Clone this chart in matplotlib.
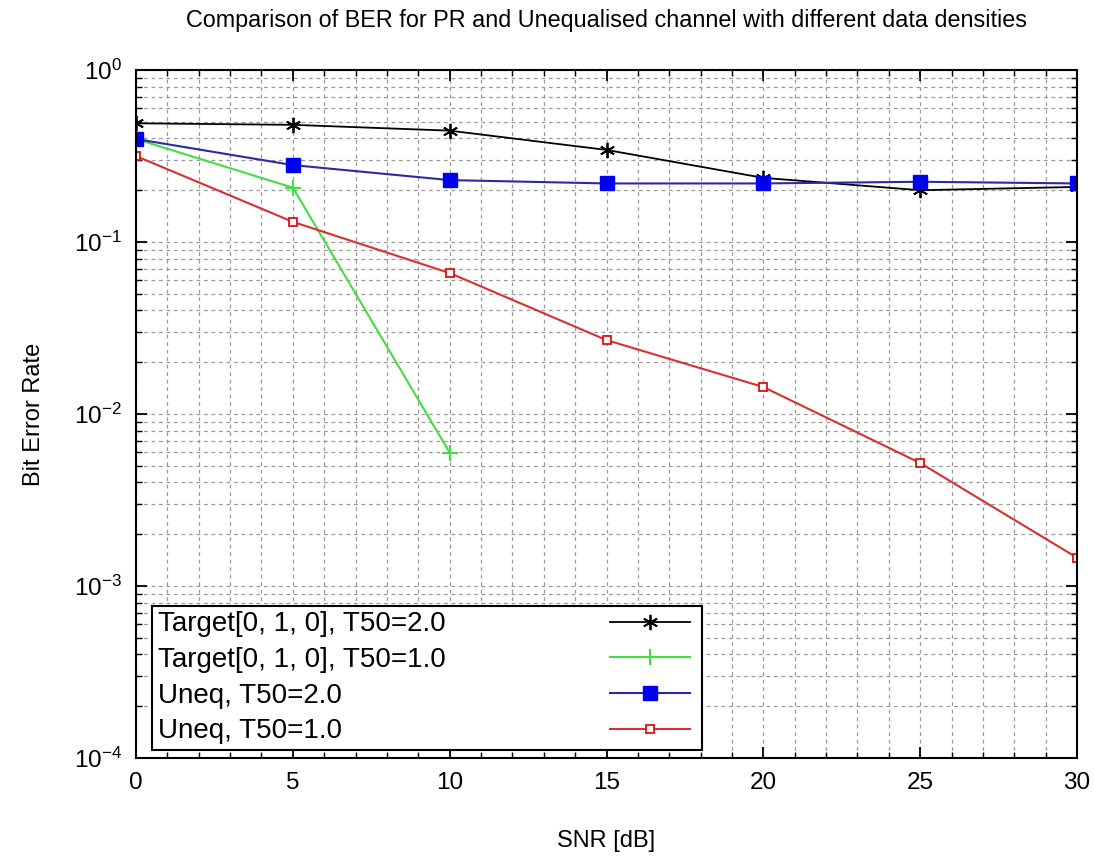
import numpy as np
import matplotlib
matplotlib.use('Agg')
import matplotlib.pyplot as plt
from matplotlib.ticker import LogLocator, MultipleLocator, NullFormatter

plt.rcParams['font.family'] = ['Liberation Sans', 'DejaVu Sans']
plt.rcParams['mathtext.fontset'] = 'custom'
plt.rcParams['mathtext.rm'] = 'Liberation Sans'

# SNR points and BER values
snr = [0, 5, 10, 15, 20, 25, 30]
snr_short = [0, 5, 10]
ber_target_t2 = [0.49, 0.48, 0.444, 0.343, 0.236, 0.200, 0.209]
ber_target_t1 = [0.397, 0.207, 0.00596]
ber_uneq_t2 = [0.397, 0.280, 0.229, 0.219, 0.219, 0.224, 0.219]
ber_uneq_t1 = [0.316, 0.131, 0.066, 0.0269, 0.01435, 0.00519, 0.00146]

labels = ['Target[0, 1, 0], T50=2.0', 'Target[0, 1, 0], T50=1.0',
          'Uneq, T50=2.0', 'Uneq, T50=1.0']

fig = plt.figure(figsize=(10.94, 8.61), dpi=100)
ax = fig.add_axes([0.1243, 0.1196, 0.8602, 0.7991])

l1, = ax.semilogy(snr, ber_target_t2, color='black', lw=1.3,
                  marker=(6, 2, 0), ms=11, mew=1.3)
l2, = ax.semilogy(snr_short, ber_target_t1, color='#44dd44', lw=1.5,
                  marker='+', ms=12, mew=1.5)
l3, = ax.semilogy(snr, ber_uneq_t2, color='#2a2aa8', lw=1.5,
                  marker='s', ms=10, mfc='#0000ee', mec='#0000ee')
l4, = ax.semilogy(snr, ber_uneq_t1, color='#d83030', lw=1.5,
                  marker='s', ms=6, mfc='white', mec='#dd1111', mew=1.3)
lines = [l1, l2, l3, l4]

ax.set_xlim(0, 30)
ax.set_ylim(1e-4, 1)
ax.xaxis.set_major_locator(MultipleLocator(5))
ax.xaxis.set_minor_locator(MultipleLocator(1))
ax.yaxis.set_major_locator(LogLocator(base=10, numticks=10))
ax.yaxis.set_minor_locator(LogLocator(base=10, subs=np.arange(2, 10), numticks=20))
ax.yaxis.set_minor_formatter(NullFormatter())

ax.grid(True, which='both', linestyle=(0, (3, 3)), color='#999999', lw=0.9)
ax.set_axisbelow(True)
ax.tick_params(which='both', direction='in', top=True, right=True)
ax.tick_params(which='major', length=8, width=1.3, labelsize=17.5, pad=10)
ax.tick_params(which='minor', length=4, width=1.0)
for s in ax.spines.values():
    s.set_linewidth(1.5)

ax.set_xlabel('SNR [dB]', fontsize=17, labelpad=26)
ax.set_ylabel('Bit Error Rate', fontsize=17, labelpad=21)
ax.set_title('Comparison of BER for PR and Unequalised channel with different data densities',
             fontsize=16.8, pad=31)

# legend: text on the left inside a framed box, line samples on the right
leg_text = ax.legend(lines, labels, loc='lower left', mode='expand',
                     bbox_to_anchor=(0.017, 0.0116, 0.5845, 0.2),
                     borderaxespad=0, borderpad=0.2, labelspacing=0.35,
                     handlelength=0, handletextpad=0, fontsize=20,
                     fancybox=False, framealpha=1, edgecolor='black')
leg_text.get_frame().set_linewidth(1.5)
for h in leg_text.legend_handles:
    h.set_visible(False)
ax.add_artist(leg_text)

leg_lines = ax.legend(lines, [''] * 4, loc='lower right',
                      bbox_to_anchor=(0.5947, 0.0116),
                      borderaxespad=0, borderpad=0.2, labelspacing=0.35,
                      handlelength=2.9, handletextpad=0, fontsize=20,
                      frameon=False)

fig.savefig('out.png', dpi=100)
